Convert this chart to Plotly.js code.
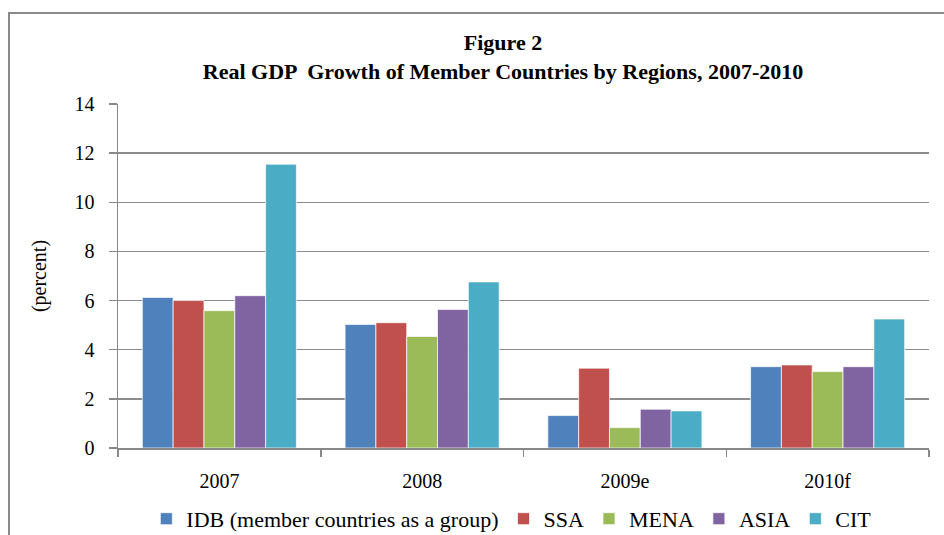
<!DOCTYPE html>
<html>
<head>
<meta charset="utf-8">
<script src="https://cdn.plot.ly/plotly-3.0.1.min.js"></script>
<style>
html,body{margin:0;padding:0;background:#fff;}
#wrap{position:relative;width:944px;height:535px;overflow:hidden;}
#chart{width:944px;height:535px;}
#frame{position:absolute;left:8px;top:12px;width:960px;height:600px;border:2px solid #8a8a8a;pointer-events:none;}
</style>
</head>
<body>
<div id="wrap"><div id="chart"></div><div id="frame"></div></div>
<script>
const categories = ["2007", "2008", "2009e", "2010f"];
const seriesNames = ["IDB (member countries as a group)", "SSA", "MENA", "ASIA", "CIT"];
const idb  = [6.13, 5.03, 1.32, 3.31];
const ssa  = [6.00, 5.10, 3.25, 3.38];
const mena = [5.59, 4.54, 0.83, 3.11];
const asia = [6.20, 5.64, 1.58, 3.31];
const cit  = [11.55, 6.76, 1.51, 5.25];
const colors = ["#4F81BD", "#C0504D", "#9BBB59", "#8064A2", "#4BACC6"];
const seriesValues = [idb, ssa, mena, asia, cit];

const font = "'Liberation Serif', 'Times New Roman', serif";
const traces = seriesValues.map((v, i) => ({
  type: "bar",
  name: seriesNames[i],
  x: categories,
  y: v,
  marker: {color: colors[i], line: {color: "rgba(255,255,255,0.7)", width: 1}}
}));

const layout = {
  width: 944, height: 535,
  margin: {l: 118, r: 15, t: 104, b: 87, autoexpand: false},
  paper_bgcolor: "#fff", plot_bgcolor: "#fff",
  font: {family: font, size: 20, color: "#000"},
  barmode: "group", bargap: 0.24, bargroupgap: 0,
  title: {
    text: "<b>Figure 2</b><br><b>Real GDP  Growth of Member Countries by Regions, 2007-2010</b>",
    font: {family: font, size: 22, color: "#000"},
    x: 503/944, xanchor: "center", xref: "container",
    y: 0.906, yanchor: "top", yref: "container"
  },
  xaxis: {
    type: "category",
    showline: true, linecolor: "#888", linewidth: 1.5,
    ticks: "outside", tickson: "boundaries", ticklen: 7, tickcolor: "#888", tickwidth: 1.5,
    ticklabelstandoff: 14,
    tickfont: {family: font, size: 20, color: "#000"}, showgrid: false
  },
  yaxis: {
    range: [0, 14], dtick: 2, tick0: 0,
    showline: true, linecolor: "#888", linewidth: 1.5,
    ticks: "outside", ticklen: 8, tickcolor: "#888", tickwidth: 1.5,
    ticklabelstandoff: 10,
    gridcolor: "#8c8c8c", gridwidth: 1.5, zeroline: false,
    tickfont: {family: font, size: 20, color: "#000"},
    title: {text: "(percent)", font: {family: font, size: 20, color: "#000"}, standoff: 22}
  },
  legend: {
    orientation: "h", x: 0.485, xanchor: "center", y: -0.145, yanchor: "top",
    font: {family: font, size: 22, color: "#000"}, itemwidth: 30, tracegroupgap: 0
  },
  showlegend: true
};

Plotly.newPlot("chart", traces, layout, {displayModeBar: false, staticPlot: true});
</script>
</body>
</html>
